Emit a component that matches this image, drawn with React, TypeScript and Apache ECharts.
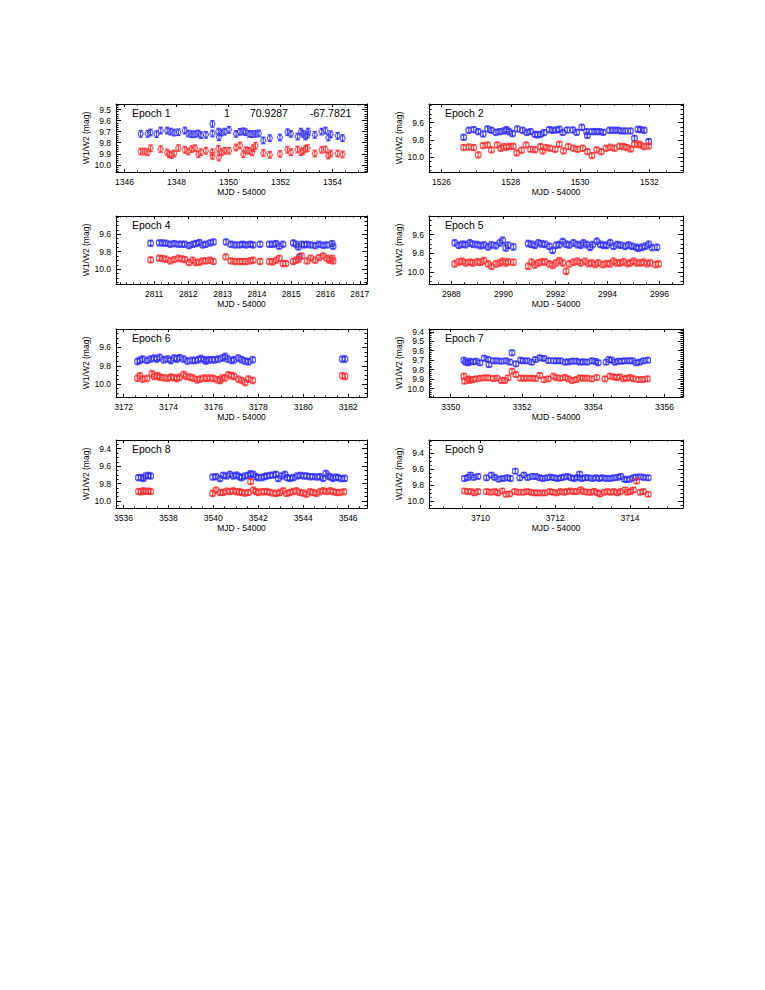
import React, { useEffect, useRef } from "react";
import * as echarts from "echarts";

// ---------- text ----------
const epochNames = ["Epoch 1", "Epoch 2", "Epoch 4", "Epoch 5", "Epoch 6", "Epoch 7", "Epoch 8", "Epoch 9"];
const headerTexts = ["1", "70.9287", "-67.7821"];
const xTitle = "MJD - 54000";
const yTitle = "W1/W2 (mag)";

// ---------- axes ----------
const xMins = [1345.67, 1525.64, 2809.89, 2987.14, 3171.66, 3349.39, 3535.67, 3708.62];
const xMaxs = [1355.33, 1532.97, 2817.21, 2996.9, 3182.84, 3356.52, 3546.84, 3715.42];
const yMins = [9.45, 9.385, 9.39, 9.4, 9.4, 9.37, 9.3, 9.24];
const yMaxs = [10.065, 10.17, 10.17, 10.13, 10.14, 10.09, 10.08, 10.09];
const xTickLabels = [
  [1346, 1348, 1350, 1352, 1354],
  [1526, 1528, 1530, 1532],
  [2811, 2812, 2813, 2814, 2815, 2816, 2817],
  [2988, 2990, 2992, 2994, 2996],
  [3172, 3174, 3176, 3178, 3180, 3182],
  [3350, 3352, 3354, 3356],
  [3536, 3538, 3540, 3542, 3544, 3546],
  [3710, 3712, 3714],
];
const yTickLabels = [
  [9.5, 9.6, 9.7, 9.8, 9.9, 10.0],
  [9.6, 9.8, 10.0],
  [9.6, 9.8, 10.0],
  [9.6, 9.8, 10.0],
  [9.6, 9.8, 10.0],
  [9.4, 9.5, 9.6, 9.7, 9.8, 9.9, 10.0],
  [9.4, 9.6, 9.8, 10.0],
  [9.4, 9.6, 9.8, 10.0],
];
const xMinorSteps = [0.5, 0.5, 0.2, 0.5, 0.5, 0.5, 0.5, 0.5];
const yMinorSteps = [0.02, 0.05, 0.05, 0.05, 0.05, 0.02, 0.05, 0.05];

// ---------- photometric errors (mag) ----------
const w1Err = [0.03, 0.035, 0.035, 0.035, 0.035, 0.03, 0.035, 0.035];
const w2Err = [0.03, 0.035, 0.035, 0.035, 0.035, 0.03, 0.035, 0.035];

// ---------- data: [MJD-54000, mag] ----------
const epoch1W1 = [
  [1346.62, 9.72], [1346.89, 9.72], [1347.0, 9.708], [1347.23, 9.723],
  [1347.39, 9.69], [1347.64, 9.69], [1347.77, 9.7], [1347.91, 9.708], [1348.07, 9.705],
  [1348.32, 9.69], [1348.45, 9.717], [1348.58, 9.723], [1348.71, 9.723], [1348.84, 9.717], [1348.94, 9.732], [1349.13, 9.729],
  [1349.38, 9.63], [1349.38, 9.717], [1349.61, 9.7], [1349.63, 9.75], [1349.73, 9.708], [1349.86, 9.7], [1350.02, 9.684],
  [1350.29, 9.72], [1350.44, 9.702], [1350.57, 9.697], [1350.66, 9.705], [1350.79, 9.72], [1350.91, 9.723], [1351.04, 9.72], [1351.17, 9.717],
  [1351.34, 9.78], [1351.59, 9.759], [1351.98, 9.753], [1352.27, 9.705], [1352.4, 9.72],
  [1352.66, 9.744], [1352.79, 9.7], [1352.87, 9.72], [1352.96, 9.744], [1353.04, 9.729], [1353.06, 9.7],
  [1353.32, 9.729], [1353.58, 9.7], [1353.73, 9.69], [1353.84, 9.753], [1353.93, 9.723], [1354.2, 9.738], [1354.39, 9.759],
];
const epoch1W2 = [
  [1346.62, 9.88], [1346.76, 9.88], [1346.89, 9.886], [1347.0, 9.85],
  [1347.39, 9.858], [1347.64, 9.889], [1347.72, 9.904], [1347.81, 9.913], [1347.91, 9.898], [1348.07, 9.849],
  [1348.32, 9.864], [1348.45, 9.88], [1348.58, 9.858], [1348.71, 9.849], [1348.84, 9.904], [1348.94, 9.886], [1349.13, 9.873],
  [1349.38, 9.886], [1349.38, 9.919], [1349.61, 9.855], [1349.63, 9.934], [1349.73, 9.886], [1349.86, 9.873], [1350.02, 9.873],
  [1350.29, 9.843], [1350.44, 9.825], [1350.57, 9.904], [1350.66, 9.867], [1350.79, 9.873], [1350.91, 9.886], [1350.95, 9.849], [1351.04, 9.828],
  [1351.34, 9.892], [1351.59, 9.91], [1351.98, 9.901], [1352.27, 9.864], [1352.4, 9.886],
  [1352.66, 9.861], [1352.79, 9.886], [1352.87, 9.873], [1352.96, 9.855], [1353.04, 9.849],
  [1353.32, 9.898], [1353.58, 9.864], [1353.73, 9.861], [1353.84, 9.916], [1353.93, 9.898], [1354.2, 9.898], [1354.39, 9.907],
];
const epoch2W1 = [
  [1526.64, 9.769], [1526.79, 9.688], [1526.93, 9.681], [1527.06, 9.704], [1527.2, 9.731], [1527.33, 9.673], [1527.44, 9.688],
  [1527.57, 9.712], [1527.68, 9.704], [1527.8, 9.696], [1527.88, 9.681], [1527.95, 9.704], [1528.05, 9.727], [1528.19, 9.673],
  [1528.34, 9.688], [1528.46, 9.712], [1528.57, 9.704], [1528.7, 9.735], [1528.77, 9.742], [1528.86, 9.735], [1528.96, 9.715],
  [1529.11, 9.681], [1529.21, 9.688], [1529.32, 9.685], [1529.4, 9.677], [1529.5, 9.712], [1529.63, 9.685], [1529.79, 9.685],
  [1529.9, 9.712], [1530.05, 9.654], [1530.19, 9.704], [1530.21, 9.746], [1530.34, 9.704], [1530.45, 9.704], [1530.56, 9.704],
  [1530.67, 9.712], [1530.85, 9.688], [1530.96, 9.688], [1531.08, 9.688], [1531.19, 9.696], [1531.31, 9.696], [1531.45, 9.696],
  [1531.57, 9.781], [1531.67, 9.677], [1531.74, 9.681], [1531.85, 9.688], [1531.98, 9.819],
];
const epoch2W2 = [
  [1526.64, 9.888], [1526.79, 9.881], [1526.93, 9.888], [1527.06, 9.973], [1527.2, 9.865], [1527.33, 9.858], [1527.44, 9.915],
  [1527.61, 9.858], [1527.71, 9.896], [1527.8, 9.877], [1527.88, 9.885], [1527.95, 9.873], [1528.07, 9.873], [1528.17, 9.95],
  [1528.31, 9.919], [1528.44, 9.858], [1528.57, 9.908], [1528.7, 9.912], [1528.86, 9.877], [1528.92, 9.927], [1529.02, 9.888],
  [1529.13, 9.896], [1529.28, 9.908], [1529.4, 9.85], [1529.52, 9.927], [1529.66, 9.877], [1529.81, 9.896], [1529.93, 9.908],
  [1530.08, 9.896], [1530.21, 9.935], [1530.34, 9.981], [1530.48, 9.915], [1530.61, 9.935], [1530.75, 9.896], [1530.87, 9.885],
  [1530.99, 9.896], [1531.14, 9.873], [1531.25, 9.877], [1531.35, 9.888], [1531.46, 9.904], [1531.57, 9.85], [1531.69, 9.85],
  [1531.74, 9.858], [1531.85, 9.877], [1531.98, 9.869],
];
const epoch4W1 = [
  [2810.9, 9.703], [2811.15, 9.699], [2811.25, 9.699], [2811.35, 9.703], [2811.47, 9.714], [2811.59, 9.707], [2811.71, 9.714],
  [2811.81, 9.714], [2811.9, 9.714], [2812.02, 9.73], [2812.13, 9.714], [2812.22, 9.707], [2812.32, 9.695], [2812.42, 9.722],
  [2812.51, 9.714], [2812.63, 9.699], [2812.73, 9.688],
  [2813.1, 9.688], [2813.24, 9.714], [2813.36, 9.722], [2813.49, 9.722], [2813.58, 9.714], [2813.68, 9.722], [2813.8, 9.714],
  [2813.89, 9.722], [2814.09, 9.714],
  [2814.36, 9.714], [2814.46, 9.714], [2814.56, 9.707], [2814.65, 9.737], [2814.76, 9.714],
  [2815.06, 9.699], [2815.14, 9.714], [2815.21, 9.745], [2815.24, 9.859], [2815.3, 9.714], [2815.38, 9.722], [2815.46, 9.714],
  [2815.57, 9.722], [2815.7, 9.73], [2815.81, 9.714], [2815.93, 9.726], [2816.04, 9.722], [2816.19, 9.707], [2816.22, 9.737],
];
const epoch4W2 = [
  [2810.9, 9.893], [2811.15, 9.874], [2811.25, 9.878], [2811.35, 9.886], [2811.47, 9.905], [2811.59, 9.89], [2811.71, 9.874],
  [2811.81, 9.882], [2811.9, 9.89], [2812.02, 9.924], [2812.13, 9.897], [2812.22, 9.924], [2812.32, 9.92], [2812.42, 9.905],
  [2812.51, 9.905], [2812.63, 9.897], [2812.73, 9.912],
  [2813.09, 9.859], [2813.24, 9.905], [2813.36, 9.912], [2813.49, 9.912], [2813.58, 9.912], [2813.68, 9.912], [2813.8, 9.905],
  [2813.89, 9.897], [2814.09, 9.912],
  [2814.36, 9.912], [2814.46, 9.916], [2814.56, 9.897], [2814.65, 9.874], [2814.76, 9.935], [2814.84, 9.935],
  [2815.06, 9.912], [2815.14, 9.897], [2815.21, 9.886], [2815.3, 9.848], [2815.46, 9.905], [2815.57, 9.874], [2815.7, 9.897],
  [2815.81, 9.867], [2815.93, 9.848], [2816.04, 9.874], [2816.11, 9.897], [2816.19, 9.874], [2816.22, 9.905],
];
const epoch5W1 = [
  [2988.13, 9.689], [2988.28, 9.714], [2988.42, 9.704], [2988.55, 9.707], [2988.71, 9.689], [2988.83, 9.704], [2988.99, 9.707],
  [2989.12, 9.718], [2989.25, 9.711], [2989.41, 9.732], [2989.54, 9.711], [2989.71, 9.718], [2989.86, 9.689], [2989.97, 9.661],
  [2990.09, 9.743], [2990.18, 9.714], [2990.38, 9.732],
  [2990.95, 9.696], [2991.08, 9.704], [2991.21, 9.714], [2991.34, 9.689], [2991.47, 9.7], [2991.6, 9.704], [2991.76, 9.725],
  [2991.89, 9.768], [2992.02, 9.714], [2992.15, 9.707], [2992.28, 9.675], [2992.41, 9.704], [2992.53, 9.711], [2992.69, 9.689],
  [2992.84, 9.707], [2992.97, 9.714], [2993.07, 9.689], [2993.2, 9.707], [2993.33, 9.736], [2993.43, 9.707], [2993.59, 9.671],
  [2993.72, 9.704], [2993.84, 9.714], [2993.97, 9.714], [2994.1, 9.686], [2994.23, 9.725], [2994.38, 9.707], [2994.51, 9.714],
  [2994.68, 9.725], [2994.81, 9.711], [2994.94, 9.725], [2995.1, 9.736], [2995.19, 9.746], [2995.32, 9.736], [2995.45, 9.725],
  [2995.58, 9.704], [2995.71, 9.739], [2995.9, 9.736],
];
const epoch5W2 = [
  [2988.13, 9.914], [2988.28, 9.893], [2988.42, 9.886], [2988.55, 9.904], [2988.71, 9.896], [2988.83, 9.904], [2988.99, 9.893],
  [2989.12, 9.896], [2989.25, 9.879], [2989.41, 9.914], [2989.54, 9.939], [2989.71, 9.914], [2989.86, 9.904], [2989.97, 9.886],
  [2990.09, 9.904], [2990.18, 9.893], [2990.38, 9.896],
  [2990.95, 9.939], [2991.08, 9.896], [2991.21, 9.925], [2991.34, 9.904], [2991.47, 9.893], [2991.6, 9.893], [2991.76, 9.914],
  [2991.89, 9.929], [2992.02, 9.904], [2992.15, 9.879], [2992.28, 9.904], [2992.41, 9.993], [2992.53, 9.914], [2992.69, 9.896],
  [2992.84, 9.886], [2992.97, 9.904], [2993.14, 9.886], [2993.27, 9.911], [2993.39, 9.904], [2993.52, 9.921], [2993.65, 9.904],
  [2993.82, 9.921], [2993.97, 9.911], [2994.1, 9.914], [2994.23, 9.886], [2994.36, 9.904], [2994.49, 9.904], [2994.62, 9.893],
  [2994.77, 9.911], [2994.87, 9.904], [2995.0, 9.886], [2995.13, 9.904], [2995.28, 9.904], [2995.39, 9.896], [2995.51, 9.911],
  [2995.64, 9.904], [2995.84, 9.921], [2995.96, 9.914],
];
const epoch6W1 = [
  [3172.62, 9.753], [3172.72, 9.742], [3172.84, 9.727], [3173.04, 9.742], [3173.21, 9.727], [3173.36, 9.716], [3173.48, 9.727],
  [3173.6, 9.709], [3173.78, 9.735], [3173.96, 9.727], [3174.1, 9.742], [3174.25, 9.716], [3174.37, 9.727], [3174.49, 9.713],
  [3174.67, 9.727], [3174.84, 9.749], [3175.04, 9.742], [3175.19, 9.742], [3175.33, 9.735], [3175.44, 9.72], [3175.59, 9.735],
  [3175.67, 9.749], [3175.78, 9.735], [3175.93, 9.735], [3176.07, 9.735], [3176.22, 9.727], [3176.41, 9.716], [3176.52, 9.698],
  [3176.64, 9.727], [3176.81, 9.742], [3176.92, 9.735], [3177.11, 9.716], [3177.26, 9.735], [3177.41, 9.749], [3177.56, 9.756],
  [3177.75, 9.735], [3181.74, 9.727], [3181.86, 9.727],
];
const epoch6W2 = [
  [3172.62, 9.935], [3172.72, 9.909], [3172.84, 9.945], [3173.04, 9.938], [3173.26, 9.887], [3173.36, 9.916], [3173.51, 9.909],
  [3173.6, 9.924], [3173.78, 9.931], [3173.96, 9.935], [3174.1, 9.924], [3174.25, 9.931], [3174.37, 9.938], [3174.49, 9.924],
  [3174.67, 9.895], [3174.79, 9.916], [3174.96, 9.924], [3175.11, 9.935], [3175.26, 9.953], [3175.41, 9.945], [3175.56, 9.935],
  [3175.7, 9.935], [3175.85, 9.935], [3176.0, 9.938], [3176.18, 9.953], [3176.3, 9.96], [3176.37, 9.935], [3176.52, 9.931],
  [3176.67, 9.898], [3176.81, 9.909], [3176.92, 9.916], [3177.11, 9.945], [3177.26, 9.96], [3177.41, 9.982], [3177.56, 9.945],
  [3177.75, 9.96], [3181.74, 9.909], [3181.86, 9.916],
];
const epoch7W1 = [
  [3350.37, 9.7], [3350.42, 9.721], [3350.49, 9.728], [3350.53, 9.711], [3350.63, 9.718], [3350.72, 9.711], [3350.82, 9.728],
  [3350.94, 9.679], [3351.05, 9.693], [3351.07, 9.746], [3351.19, 9.707], [3351.3, 9.707], [3351.42, 9.711], [3351.55, 9.707],
  [3351.66, 9.721], [3351.72, 9.622], [3351.83, 9.739], [3351.96, 9.7], [3352.03, 9.707], [3352.15, 9.707], [3352.27, 9.721],
  [3352.38, 9.693], [3352.5, 9.675], [3352.62, 9.682], [3352.74, 9.704], [3352.88, 9.707], [3352.97, 9.707], [3353.08, 9.707],
  [3353.21, 9.721], [3353.3, 9.718], [3353.41, 9.711], [3353.53, 9.711], [3353.63, 9.721], [3353.72, 9.718], [3353.83, 9.721],
  [3353.96, 9.707], [3354.07, 9.714], [3354.14, 9.728],
  [3354.36, 9.721], [3354.44, 9.693], [3354.52, 9.7], [3354.61, 9.721], [3354.71, 9.711], [3354.8, 9.711], [3354.89, 9.707],
  [3355.01, 9.707], [3355.1, 9.707], [3355.2, 9.728], [3355.3, 9.721], [3355.41, 9.707], [3355.53, 9.7],
];
const epoch7W2 = [
  [3350.37, 9.869], [3350.39, 9.922], [3350.49, 9.898], [3350.53, 9.915], [3350.63, 9.905], [3350.72, 9.898], [3350.83, 9.891],
  [3350.94, 9.887], [3351.05, 9.887], [3351.19, 9.894], [3351.3, 9.891], [3351.42, 9.915], [3351.52, 9.915], [3351.61, 9.887],
  [3351.72, 9.817], [3351.83, 9.852], [3351.96, 9.891], [3352.05, 9.891], [3352.15, 9.891], [3352.27, 9.891], [3352.38, 9.894],
  [3352.5, 9.862], [3352.62, 9.905], [3352.74, 9.898], [3352.88, 9.869], [3352.97, 9.887], [3353.08, 9.891], [3353.21, 9.884],
  [3353.3, 9.898], [3353.41, 9.915], [3353.53, 9.905], [3353.63, 9.887], [3353.72, 9.891], [3353.83, 9.891], [3353.96, 9.898],
  [3354.1, 9.884],
  [3354.33, 9.898], [3354.47, 9.869], [3354.57, 9.877], [3354.66, 9.884], [3354.75, 9.877], [3354.85, 9.898], [3354.94, 9.891],
  [3355.04, 9.884], [3355.13, 9.898], [3355.27, 9.905], [3355.39, 9.905], [3355.52, 9.898],
];
const epoch8W1 = [
  [3536.67, 9.732], [3536.79, 9.732], [3536.89, 9.74], [3536.99, 9.713], [3537.11, 9.706], [3537.21, 9.713],
  [3539.97, 9.725], [3540.12, 9.721], [3540.3, 9.743], [3540.44, 9.706], [3540.59, 9.713], [3540.74, 9.694], [3540.89, 9.713],
  [3541.04, 9.702], [3541.16, 9.721], [3541.26, 9.732], [3541.41, 9.713], [3541.56, 9.706], [3541.66, 9.687], [3541.78, 9.694],
  [3541.9, 9.721], [3542.0, 9.732], [3542.15, 9.732], [3542.27, 9.721], [3542.37, 9.713], [3542.52, 9.706], [3542.67, 9.702],
  [3542.79, 9.694], [3542.89, 9.743], [3543.04, 9.713], [3543.19, 9.694], [3543.29, 9.732], [3543.41, 9.74], [3543.56, 9.732],
  [3543.73, 9.713], [3543.88, 9.706], [3544.03, 9.713], [3544.15, 9.713], [3544.3, 9.721], [3544.44, 9.721], [3544.62, 9.725],
  [3544.74, 9.721], [3544.89, 9.74], [3545.01, 9.683], [3545.11, 9.713], [3545.21, 9.725], [3545.33, 9.74], [3545.45, 9.725],
  [3545.56, 9.732], [3545.7, 9.743], [3545.85, 9.74],
];
const epoch8W2 = [
  [3536.67, 9.891], [3536.79, 9.894], [3536.89, 9.883], [3536.99, 9.891], [3537.11, 9.887], [3537.21, 9.891],
  [3539.97, 9.913], [3540.12, 9.875], [3540.3, 9.902], [3540.44, 9.902], [3540.59, 9.887], [3540.74, 9.891], [3540.89, 9.883],
  [3541.04, 9.894], [3541.16, 9.894], [3541.26, 9.902], [3541.41, 9.909], [3541.56, 9.902], [3541.66, 9.777], [3541.78, 9.875],
  [3541.9, 9.891], [3542.0, 9.902], [3542.15, 9.894], [3542.27, 9.894], [3542.4, 9.891], [3542.52, 9.902], [3542.67, 9.909],
  [3542.81, 9.913], [3542.96, 9.902], [3543.11, 9.883], [3543.26, 9.913], [3543.41, 9.902], [3543.56, 9.891], [3543.7, 9.883],
  [3543.85, 9.902], [3544.0, 9.909], [3544.15, 9.921], [3544.3, 9.894], [3544.44, 9.902], [3544.59, 9.913], [3544.74, 9.894],
  [3544.89, 9.883], [3545.04, 9.891], [3545.21, 9.883], [3545.33, 9.894], [3545.48, 9.902], [3545.63, 9.902], [3545.81, 9.894],
];
const epoch9W1 = [
  [3709.57, 9.721], [3709.66, 9.708], [3709.73, 9.679], [3709.82, 9.708], [3709.93, 9.696], [3710.16, 9.712], [3710.29, 9.679],
  [3710.38, 9.708], [3710.49, 9.729], [3710.6, 9.721], [3710.71, 9.712], [3710.8, 9.721], [3710.93, 9.63], [3711.05, 9.712],
  [3711.16, 9.679], [3711.26, 9.708], [3711.38, 9.696], [3711.48, 9.696], [3711.58, 9.712], [3711.67, 9.721], [3711.78, 9.712],
  [3711.87, 9.704], [3711.97, 9.712], [3712.06, 9.721], [3712.15, 9.712], [3712.24, 9.704], [3712.33, 9.696], [3712.42, 9.712],
  [3712.51, 9.721], [3712.6, 9.708], [3712.65, 9.667], [3712.71, 9.721], [3712.8, 9.712], [3712.89, 9.712], [3713.0, 9.721],
  [3713.09, 9.712], [3713.18, 9.721], [3713.26, 9.712], [3713.36, 9.721], [3713.47, 9.721], [3713.57, 9.712], [3713.67, 9.708],
  [3713.75, 9.696], [3713.85, 9.729], [3713.91, 9.737], [3714.0, 9.729], [3714.09, 9.712], [3714.16, 9.704], [3714.27, 9.7],
  [3714.37, 9.708], [3714.49, 9.712],
];
const epoch9W2 = [
  [3709.57, 9.877], [3709.66, 9.885], [3709.75, 9.885], [3709.84, 9.901], [3709.93, 9.885], [3710.16, 9.885], [3710.27, 9.893],
  [3710.38, 9.885], [3710.46, 9.901], [3710.58, 9.877], [3710.68, 9.918], [3710.78, 9.914], [3710.91, 9.885], [3711.02, 9.893],
  [3711.14, 9.893], [3711.24, 9.885], [3711.35, 9.893], [3711.44, 9.901], [3711.53, 9.901], [3711.64, 9.901], [3711.73, 9.901],
  [3711.85, 9.885], [3711.94, 9.893], [3712.04, 9.901], [3712.13, 9.885], [3712.24, 9.893], [3712.31, 9.885], [3712.4, 9.877],
  [3712.49, 9.885], [3712.58, 9.885], [3712.68, 9.864], [3712.76, 9.885], [3712.86, 9.893], [3712.95, 9.893], [3713.04, 9.881],
  [3713.13, 9.901], [3713.2, 9.914], [3713.31, 9.893], [3713.4, 9.885], [3713.48, 9.893], [3713.57, 9.885], [3713.66, 9.901],
  [3713.75, 9.885], [3713.87, 9.864], [3713.93, 9.893], [3714.02, 9.885], [3714.09, 9.864], [3714.18, 9.753], [3714.27, 9.893],
  [3714.36, 9.885], [3714.49, 9.918],
];

const w1Series = [epoch1W1, epoch2W1, epoch4W1, epoch5W1, epoch6W1, epoch7W1, epoch8W1, epoch9W1];
const w2Series = [epoch1W2, epoch2W2, epoch4W2, epoch5W2, epoch6W2, epoch7W2, epoch8W2, epoch9W2];

// ---------- layout / style ----------
const GRID_LEFTS = [116, 429];
const GRID_WIDTHS = [251, 254];
const GRID_TOPS = [104, 216, 329, 440];
const GRID_H = 68;
const FONT = "'Liberation Sans', Arial, sans-serif";
const BLUE = "#2020ff";
const BLUE_LIGHT = "rgba(120,120,255,0.35)";
const RED = "#ff2020";
const RED_LIGHT = "rgba(255,120,120,0.35)";

function stepTicks(min: number, max: number, step: number) {
  const out: number[] = [];
  const start = Math.ceil(min / step - 1e-9);
  for (let k = start; k * step <= max + 1e-9; k++) out.push(+(k * step).toFixed(6));
  return out;
}

function makeRender(shape: "circle" | "square", dark: string, light: string, err: number) {
  return (params: any, api: any) => {
    const x = api.value(0);
    const y = api.value(1);
    const p = api.coord([x, y]);
    const a = api.coord([x, y - err]);
    const b = api.coord([x, y + err]);
    const cap = 2.2;
    const mk = (stroke: string, lw: number) => {
      const els: any[] = [
        { type: "line", shape: { x1: p[0], y1: a[1], x2: p[0], y2: b[1] }, style: { stroke, lineWidth: lw } },
        { type: "line", shape: { x1: p[0] - cap, y1: a[1], x2: p[0] + cap, y2: a[1] }, style: { stroke, lineWidth: lw } },
        { type: "line", shape: { x1: p[0] - cap, y1: b[1], x2: p[0] + cap, y2: b[1] }, style: { stroke, lineWidth: lw } },
      ];
      if (shape === "circle") {
        els.push({ type: "circle", shape: { cx: p[0], cy: p[1], r: 2.5 }, style: { fill: "none", stroke, lineWidth: lw } });
      } else {
        els.push({ type: "rect", shape: { x: p[0] - 2.7, y: p[1] - 2.2, width: 5.4, height: 4.4 }, style: { fill: "none", stroke, lineWidth: lw } });
      }
      return els;
    };
    return { type: "group", children: [...mk(light, 1.6), ...mk(dark, 0.75)] };
  };
}

function buildOption() {
  const grids: any[] = [];
  const xAxes: any[] = [];
  const yAxes: any[] = [];
  const series: any[] = [];
  const graphics: any[] = [];
  const tickStyle = { color: "#000", width: 1 };
  const labelStyle = { color: "#000", fontSize: 8.5, fontFamily: FONT };

  for (let i = 0; i < 8; i++) {
    const col = i % 2;
    const row = Math.floor(i / 2);
    const left = GRID_LEFTS[col];
    const top = GRID_TOPS[row];
    grids.push({ left, top, width: GRID_WIDTHS[col], height: GRID_H, containLabel: false });

    const xMinor = stepTicks(xMins[i], xMaxs[i], xMinorSteps[i]);
    const yMinor = stepTicks(yMins[i], yMaxs[i], yMinorSteps[i]);
    const xBase = { type: "value", gridIndex: i, min: xMins[i], max: xMaxs[i], splitLine: { show: false } };
    const yBase = { type: "value", gridIndex: i, min: yMins[i], max: yMaxs[i], inverse: true, splitLine: { show: false } };

    xAxes.push({
      ...xBase, position: "bottom",
      axisLine: { show: true, onZero: false, lineStyle: tickStyle },
      axisTick: { show: true, inside: true, length: 3, customValues: xTickLabels[i], lineStyle: tickStyle },
      axisLabel: { show: true, customValues: xTickLabels[i], margin: 5, ...labelStyle, formatter: (v: number) => String(Math.round(v)) },
      name: xTitle, nameLocation: "middle", nameGap: 15, nameTextStyle: labelStyle,
    });
    xAxes.push({
      ...xBase, position: "bottom",
      axisLine: { show: false, onZero: false },
      axisTick: { show: true, inside: true, length: 1.5, customValues: xMinor, lineStyle: tickStyle },
      axisLabel: { show: false },
    });
    xAxes.push({
      ...xBase, position: "top",
      axisLine: { show: true, onZero: false, lineStyle: tickStyle },
      axisTick: { show: true, inside: true, length: 3, customValues: xTickLabels[i], lineStyle: tickStyle },
      axisLabel: { show: false },
    });
    xAxes.push({
      ...xBase, position: "top",
      axisLine: { show: false, onZero: false },
      axisTick: { show: true, inside: true, length: 1.5, customValues: xMinor, lineStyle: tickStyle },
      axisLabel: { show: false },
    });

    yAxes.push({
      ...yBase, position: "left",
      axisLine: { show: true, onZero: false, lineStyle: tickStyle },
      axisTick: { show: true, inside: true, length: 5, customValues: yTickLabels[i], lineStyle: tickStyle },
      axisLabel: { show: true, customValues: yTickLabels[i], margin: 5, ...labelStyle, formatter: (v: number) => v.toFixed(1) },
      name: yTitle, nameLocation: "middle", nameRotate: 90, nameGap: 23, nameTextStyle: labelStyle,
    });
    yAxes.push({
      ...yBase, position: "left",
      axisLine: { show: false, onZero: false },
      axisTick: { show: true, inside: true, length: 2.5, customValues: yMinor, lineStyle: tickStyle },
      axisLabel: { show: false },
    });
    yAxes.push({
      ...yBase, position: "right",
      axisLine: { show: true, onZero: false, lineStyle: tickStyle },
      axisTick: { show: true, inside: true, length: 5, customValues: yTickLabels[i], lineStyle: tickStyle },
      axisLabel: { show: false },
    });
    yAxes.push({
      ...yBase, position: "right",
      axisLine: { show: false, onZero: false },
      axisTick: { show: true, inside: true, length: 2.5, customValues: yMinor, lineStyle: tickStyle },
      axisLabel: { show: false },
    });

    const shape = i === 0 ? "circle" : "square";
    series.push({
      type: "custom", name: "W1 " + epochNames[i], xAxisIndex: 4 * i, yAxisIndex: 4 * i, clip: false,
      data: w1Series[i], renderItem: makeRender(shape, BLUE, BLUE_LIGHT, w1Err[i]),
    });
    series.push({
      type: "custom", name: "W2 " + epochNames[i], xAxisIndex: 4 * i, yAxisIndex: 4 * i, clip: false,
      data: w2Series[i], renderItem: makeRender(shape, RED, RED_LIGHT, w2Err[i]),
    });

    graphics.push({
      type: "text", left: left + 16, top: top + 3,
      style: { text: epochNames[i], fill: "#000", fontSize: 10.5, fontFamily: FONT },
    });
  }
  const headerLefts = [224, 250, 310];
  headerTexts.forEach((t, k) => {
    graphics.push({
      type: "text", left: headerLefts[k], top: GRID_TOPS[0] + 3,
      style: { text: t, fill: "#000", fontSize: 10.5, fontFamily: FONT },
    });
  });

  return {
    animation: false,
    backgroundColor: "#fff",
    grid: grids,
    xAxis: xAxes,
    yAxis: yAxes,
    series,
    graphic: graphics,
  };
}

export default function App() {
  const ref = useRef<HTMLDivElement>(null);
  useEffect(() => {
    if (!ref.current) return;
    const chart = echarts.init(ref.current, undefined, { renderer: "svg" });
    chart.setOption(buildOption() as any);
    return () => chart.dispose();
  }, []);
  return (
    <div
      ref={ref}
      style={{ position: "absolute", left: 0, top: 0, width: 765, height: 990, background: "#fff" }}
    />
  );
}
